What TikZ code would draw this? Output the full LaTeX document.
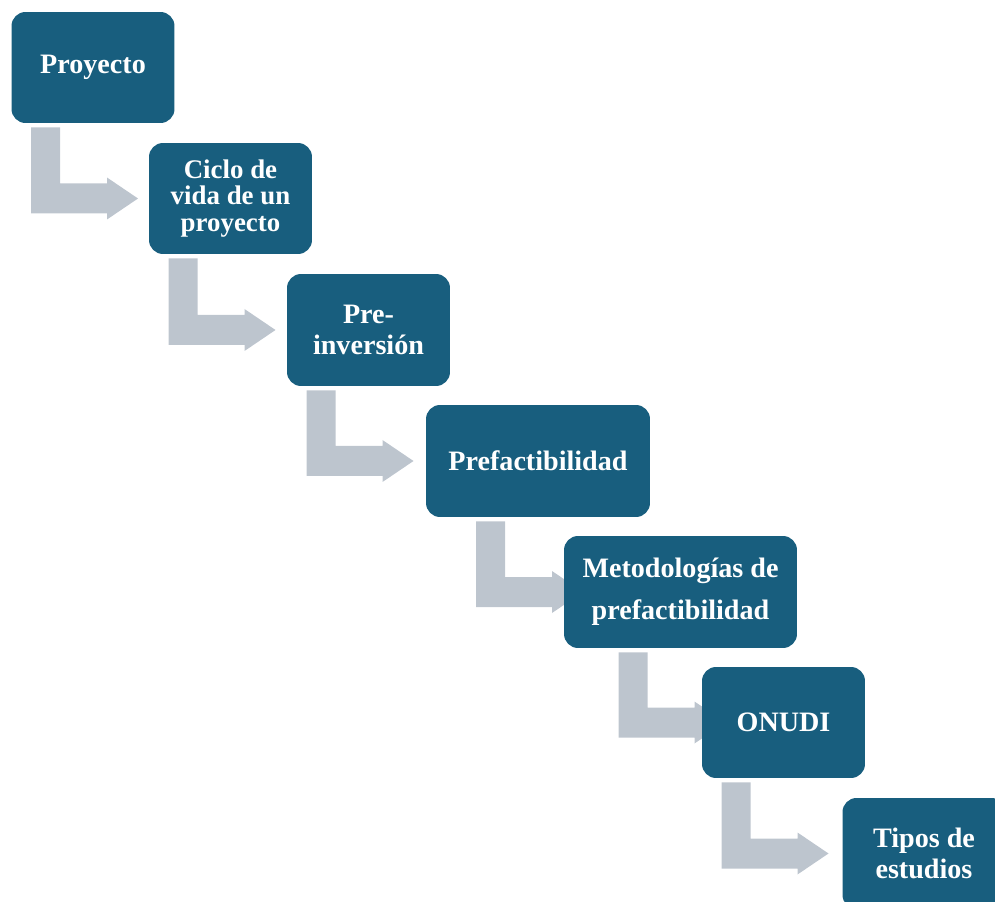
\documentclass[tikz,border=0pt]{standalone}
\usepackage{fontspec}
\setmainfont{Liberation Serif}
\usepackage{tikz}
\usetikzlibrary{calc, backgrounds}
\usetikzlibrary{positioning}
\definecolor{boxblue}{HTML}{185E7E}
\definecolor{bendgray}{HTML}{BDC5CE}
\tikzset{
  stage/.style={fill=boxblue, rounded corners=0.28cm, text=white, align=center,
    font=\bfseries\fontsize{16}{17.6}\selectfont,
    minimum width=3.26cm, minimum height=2.22cm, inner sep=0pt},
  bendbar/.style={fill=bendgray}
}
\begin{document}
\begin{tikzpicture}[x=0.02cm, y=-0.02cm]
        \clip (0,0) rectangle (995,902);
        \node[stage] (proyecto) at (93,67.5) {Proyecto};
        \node[stage, font=\bfseries\fontsize{15.3}{15.3}\selectfont] (ciclo) at (230.5,198.5) {Ciclo de\\vida de un\\proyecto};
        \node[stage, minimum height=2.24cm] (preinv) at (368.5,330) {Pre-\\inversión};
        \node[stage, minimum width=4.48cm, minimum height=2.24cm] (prefact) at (538,461) {Prefactibilidad};
        \node[stage, minimum width=4.66cm, minimum height=2.24cm, font=\bfseries\fontsize{16}{23.8}\selectfont] (metod) at (680.5,592) {Metodologías de\\prefactibilidad};
        \node[stage] (onudi) at (783.5,722.5) {ONUDI};
        \node[stage] (tipos) at (924,853.5) {Tipos de\\estudios};
        % bent arrows behind the boxes
        \begin{scope}[on background layer]
        \foreach \a/\b in {proyecto/ciclo, ciclo/preinv, preinv/prefact, prefact/metod, metod/onudi, onudi/tipos} {
            \coordinate (s) at (\a.south);
            \coordinate (t) at (\a.south |- \b.center);
            \fill[bendbar] ($(s)+(-62,4)$) -- ($(s)+(-33,4)$) -- ($(t)+(-33,-15)$) -- ($(t)+(14,-15)$)
                -- ($(t)+(14,-21)$) -- ($(t)+(45,0)$) -- ($(t)+(14,21)$) -- ($(t)+(14,15)$)
                -- ($(t)+(-62,15)$) -- cycle;
        }
        \end{scope}
    \end{tikzpicture}
\end{document}
